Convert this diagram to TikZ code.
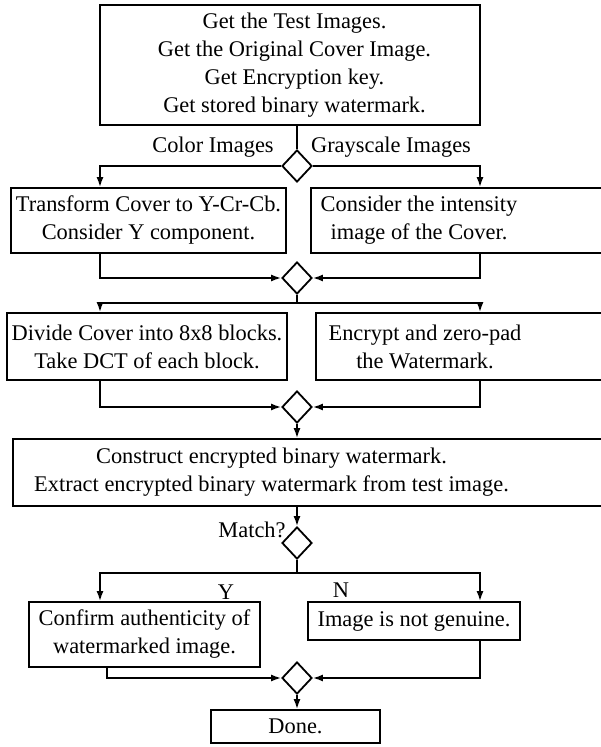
\documentclass[tikz,border=0pt]{standalone}
\usepackage{fontspec}
\setmainfont{Liberation Serif}
\usetikzlibrary{shapes.geometric,arrows.meta}
\tikzset{%
	no/.style={draw, line width=0.9pt, inner sep=0pt, align=center, font=\fontsize{11.2}{14}\selectfont},
	dec/.style={draw, diamond, line width=0.9pt, inner sep=0pt, minimum width=15pt, minimum height=16pt},
	line/.style={line width=0.8pt},
	arrow/.style={line width=0.8pt,->,>={Latex[length=5pt,width=3.5pt]}},
	lbl/.style={inner sep=0pt, align=center, font=\fontsize{11.2}{14}\selectfont}}
\begin{document}
\begin{tikzpicture}[x=0.5pt,y=-0.5pt]
		\useasboundingbox (0,0) rectangle (600,747);
		\coordinate (L) at (100,0);
		\coordinate (R) at (480,0);
		\coordinate (LC) at (107,0);
		\coordinate (J2) at (297,303);
		\coordinate (J4) at (297,573);

		\node[no, minimum width=190pt, minimum height=60pt] (GT) at (290,65) {};
		\node[lbl] (GTt) at (294.5,65) {Get the Test Images.\\Get the Original Cover Image.\\Get Encryption key.\\Get stored binary watermark.};
		\node[dec] (M1) at (297,166) {};
		\node[no, minimum width=137.5pt, minimum height=32.5pt] (CI) at (148.5,220.5) {Transform Cover to Y-Cr-Cb.\\Consider Y component.};
		% right-hand boxes run off the page
		\node[no, anchor=west, minimum width=170pt, minimum height=32.5pt] (GI) at (310,220.5) {};
		\node[lbl] (GIt) at (419,220.5) {Consider the intensity\\image of the Cover.};
		\node[dec] (M2) at (297,278) {};
		\node[no, minimum width=140pt, minimum height=33.5pt] (DC) at (147,346.5) {Divide Cover into 8x8 blocks.\\Take DCT of each block.};
		\node[no, anchor=west, minimum width=170pt, minimum height=33.5pt] (EW) at (315,346.5) {};
		\node[lbl] (EWt) at (425,346.5) {Encrypt and zero-pad\\the Watermark.};
		\node[dec] (M3) at (297,407) {};
		\node[no, anchor=west, minimum width=310pt, minimum height=33.5pt] (CE) at (12,472.5) {};
		\node[lbl] (CEt) at (271.5,472.5) {Construct encrypted binary watermark.\\Extract encrypted binary watermark from test image.};
		\node[dec] (M4) at (297,543) {};
		\node[no, minimum width=115.5pt, minimum height=32.5pt] (CA) at (144.5,634.5) {Confirm authenticity of\\watermarked image.};
		\node[no, minimum width=106pt, minimum height=19pt] (NG) at (414,621) {Image is not genuine.};
		\node[dec] (M5) at (297,678) {};
		\node[no, minimum width=84.5pt, minimum height=16.5pt] (DN) at (295.5,726.5) {Done.};

		\node[lbl] (CL) at (213,147) {Color Images};
		\node[lbl] (GL) at (391,147) {Grayscale Images};
		\node[lbl] (ML) at (252,530) {Match?};
		\node[lbl] (YL) at (226,592) {Y};
		\node[lbl] (NL) at (341,590) {N};

		\draw[line] (GT.south -| M1) -- (M1.north);
		\draw[arrow] (M1.west) -| (CI.north -| L);
		\draw[arrow] (M1.east) -| (GI.north -| R);
		\draw[arrow] (CI.south -| L) |- (M2.west);
		\draw[arrow] (GI.south -| R) |- (M2.east);
		\draw[line] (M2.south) -- (J2);
		\draw[arrow] (J2) -| (DC.north -| L);
		\draw[arrow] (J2) -| (EW.north -| R);
		\draw[arrow] (DC.south -| L) |- (M3.west);
		\draw[arrow] (EW.south -| R) |- (M3.east);
		\draw[arrow] (M3.south) -- (CE.north -| M3);
		\draw[arrow] (CE.south -| M4) -- (M4.north);
		\draw[line] (M4.south) -- (J4);
		\draw[arrow] (J4) -| (CA.north -| L);
		\draw[arrow] (J4) -| (NG.north -| R);
		\draw[arrow] (CA.south -| LC) |- (M5.west);
		\draw[arrow] (NG.south -| R) |- (M5.east);
		\draw[arrow] (M5.south) -- (DN.north -| M5);
\end{tikzpicture}
\end{document}
